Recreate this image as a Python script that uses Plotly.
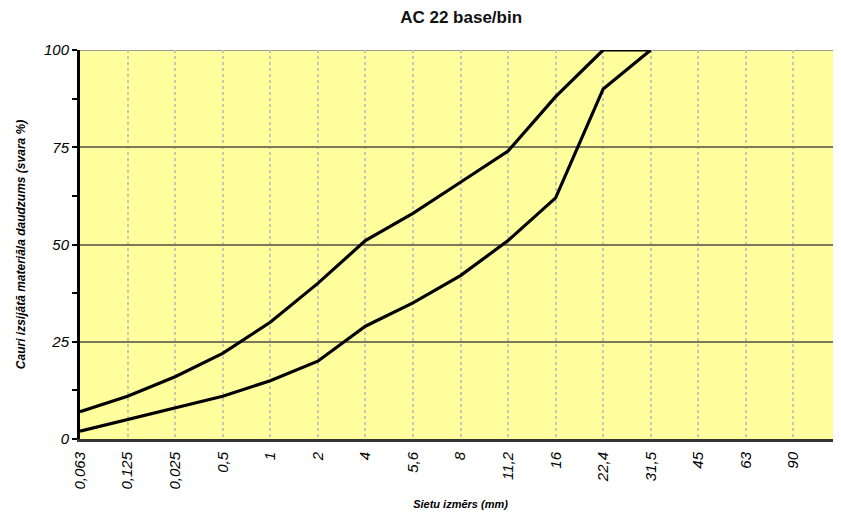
import plotly.graph_objects as go

sieve_labels = ["0,063", "0,125", "0,025", "0,5", "1", "2", "4", "5,6", "8", "11,2",
                "16", "22,4", "31,5", "45", "63", "90", "125"]
upper_sieves = ["0,063", "0,125", "0,025", "0,5", "1", "2", "4", "5,6", "8", "11,2", "16", "22,4", "31,5"]
upper_values = [7, 11, 16, 22, 30, 40, 51, 58, 66, 74, 88, 100, 100]
lower_sieves = ["0,063", "0,125", "0,025", "0,5", "1", "2", "4", "5,6", "8", "11,2", "16", "22,4", "31,5"]
lower_values = [2, 5, 8, 11, 15, 20, 29, 35, 42, 51, 62, 90, 100]

fig = go.Figure()
fig.add_trace(go.Scatter(x=upper_sieves, y=upper_values, mode="lines",
                         line=dict(color="black", width=3.2), showlegend=False, cliponaxis=False))
fig.add_trace(go.Scatter(x=lower_sieves, y=lower_values, mode="lines",
                         line=dict(color="black", width=3.2), showlegend=False, cliponaxis=False))

fig.update_layout(
    width=833, height=506,
    margin=dict(l=72, r=0, t=42, b=75),
    paper_bgcolor="white",
    plot_bgcolor="#FFFF9E",
    font=dict(family="Liberation Sans, Arial, sans-serif", color="black"),
    title=dict(text="<b>AC 22 base/bin</b>", x=0.544, xanchor="center", y=0.982, yanchor="middle",
               font=dict(size=17, color="#111")),
)
fig.update_xaxes(
    type="category", categoryorder="array", categoryarray=sieve_labels,
    range=[0, 16], automargin=False,
    tickvals=sieve_labels, ticktext=[f"<i>{s}</i>" for s in sieve_labels],
    tickangle=-90, tickfont=dict(size=15),
    showgrid=True, gridcolor="#C8C8B0", griddash="dot", gridwidth=1.5,
    showline=True, linecolor="#333", linewidth=3,
    ticks="outside", ticklen=4, tickcolor="rgba(0,0,0,0)", zeroline=False,
    title=dict(text="<b><i>Sietu izmērs (mm)</i></b>", font=dict(size=11), standoff=12),
)
fig.update_yaxes(
    range=[0, 100], tickvals=[0, 25, 50, 75, 100],
    ticktext=["<i>0</i>", "<i>25</i>", "<i>50</i>", "<i>75</i>", "<i>100</i>"],
    tickfont=dict(size=15),
    showgrid=True, gridcolor="#7A7A5A", gridwidth=2,
    showline=True, linecolor="black", linewidth=3,
    ticks="outside", ticklen=5, tickwidth=2, tickcolor="black",
    minor=dict(dtick=12.5, tick0=0, ticks="outside", ticklen=5, tickwidth=2, tickcolor="black", showgrid=False),
    zeroline=False,
    title=dict(text="<b><i>Cauri izsijātā materiāla daudzums (svara %)</i></b>", font=dict(size=12), standoff=16),
)
# top border line at 100
fig.add_shape(type="line", xref="paper", yref="y", x0=0, x1=1, y0=100, y1=100,
              line=dict(color="#999999", width=2), layer="below")

fig.write_html("out.html")
